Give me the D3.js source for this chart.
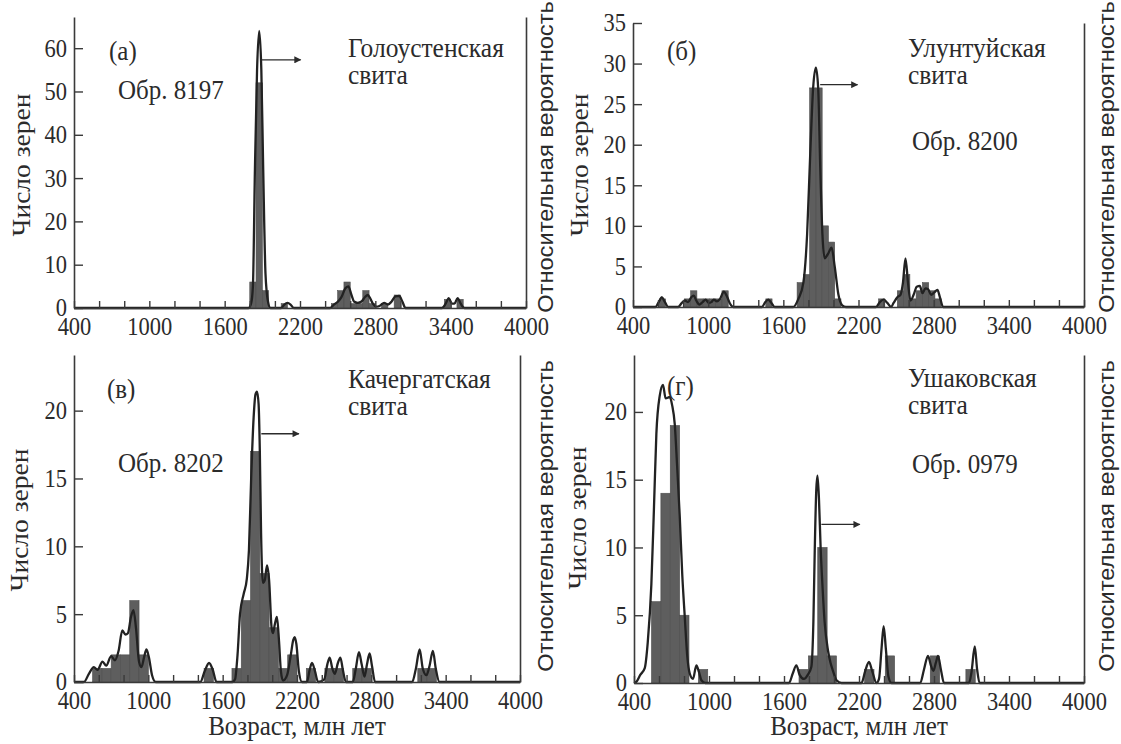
<!DOCTYPE html>
<html>
<head>
<meta charset="utf-8">
<script src="https://cdn.jsdelivr.net/npm/d3@7"></script>
<style>
  body { margin: 0; background: #fff; }
</style>
</head>
<body>
<div id="chart-container"></div>
<script>
const width = 1121;
const height = 744;
const ink = "#2b2b2b";
const barColor = "#5e5e5e";
const serif = "'Liberation Serif', 'Times New Roman', serif";
const sans = "'Liberation Sans', Arial, sans-serif";
const stretch = 1.1; // the scan is a bit taller than wide

// x axis (age, Ma) shared by all panels
const ageLabels = [400, 1000, 1600, 2200, 2800, 3400, 4000];
const ageTicks = d3.range(400, 4001, 200);

// (а) Голоустенская свита, обр. 8197 — 50 Ma bins
const aTicks = [0, 10, 20, 30, 40, 50, 60];
const aBinStart = [1800, 1850, 1900, 2050, 2450, 2500, 2550, 2600, 2650, 2700, 2750, 2850, 2950, 3350, 3450];
const aCounts = [6, 52, 4, 1, 1, 4, 6, 1, 1, 4, 1, 1, 3, 2, 2];
const aCurve = [[400, 0], [1790, 0], [1810, 1], [1825, 5], [1841, 32], [1858, 55], [1875, 64], [1892, 55],
  [1907, 32], [1925, 8], [1945, 1.5], [1965, 0],
  [2050, 0], [2075, 0.8], [2100, 1.2], [2125, 0.8], [2150, 0],
  [2440, 0], [2470, 0.8], [2500, 1.4], [2530, 2.5], [2560, 4.5], [2585, 5], [2610, 3], [2630, 1.5],
  [2660, 1.2], [2690, 1.5], [2720, 2.6], [2740, 3], [2760, 2.2], [2780, 1], [2810, 0.3], [2840, 0.6],
  [2870, 1.2], [2900, 0.8], [2930, 1.5], [2960, 2.7], [2990, 2.8], [3015, 1.5], [3040, 0],
  [3330, 0], [3360, 1], [3385, 2.3], [3410, 1], [3430, 1], [3455, 2.3], [3480, 1], [3510, 0], [4000, 0]];
const aArrow = [1894, 2205, 57.3];

// (б) Улунтуйская свита, обр. 8200 — 50 Ma bins
const bTicks = [0, 5, 10, 15, 20, 25, 30, 35];
const bBinStart = [610, 810, 860, 910, 960, 1010, 1060, 1110, 1460, 1710, 1760, 1810, 1860, 1910, 1960, 2010,
  2360, 2510, 2560, 2610, 2660, 2710, 2760, 2810];
const bCounts = [1, 1, 2, 1, 1, 1, 1, 2, 1, 3, 4, 27, 27, 10, 8, 1, 1, 2, 4, 1, 2, 3, 2, 1];
const bCurve = [[400, 0], [580, 0], [605, 0.6], [630, 1.2], [655, 0.6], [680, 0],
  [760, 0], [790, 0.5], [815, 0.8], [840, 0.6], [865, 1.2], [885, 1.4], [905, 0.8], [930, 0.3], [955, 0.6],
  [980, 0.9], [1005, 0.5], [1025, 0.6], [1045, 0.9], [1070, 0.7], [1095, 1], [1125, 1.9], [1150, 1.3],
  [1175, 0.4], [1200, 0],
  [1430, 0], [1455, 0.6], [1480, 0.9], [1505, 0.5], [1530, 0],
  [1680, 0], [1720, 1], [1760, 3], [1790, 9], [1815, 19], [1838, 27], [1860, 29.5], [1878, 27], [1895, 17],
  [1912, 9], [1930, 6], [1955, 6.5], [1985, 7.3], [2010, 5], [2040, 1.5], [2070, 0.2], [2100, 0],
  [2340, 0], [2370, 0.6], [2400, 0.9], [2430, 0.5], [2460, 0],
  [2480, 0.5], [2510, 1.2], [2535, 1.5], [2555, 3], [2575, 6], [2595, 3], [2615, 0.8], [2640, 1.5],
  [2665, 2.5], [2690, 2.6], [2710, 1.7], [2735, 2.3], [2755, 2.2], [2780, 1.5], [2805, 1.8], [2830, 2.1],
  [2850, 1.2], [2875, 0], [4000, 0]];
const bArrow = [1894, 2192, 27.4];

// (в) Качергатская свита, обр. 8202 — 75 Ma bins
const cTicks = [0, 5, 10, 15, 20];
const cBinStart = [550, 625, 700, 775, 850, 925, 1450, 1675, 1750, 1825, 1900, 1975, 2050, 2125, 2275,
  2425, 2500, 2650, 2725, 3175, 3250];
const cCounts = [1, 1, 2, 2, 6, 2, 1, 1, 6, 17, 8, 4, 1, 2, 1, 1, 1, 1, 1, 1, 1];
const cCurve = [[400, 0], [480, 0], [520, 0.6], [560, 1.1], [590, 0.9], [630, 1.5], [660, 1.2], [700, 1.9],
  [730, 1.6], [760, 2.3], [790, 3.8], [815, 3.5], [835, 3.6], [860, 4.8], [880, 5.3], [900, 4], [925, 1.5],
  [945, 1.1], [965, 1.8], [985, 2.4], [1005, 1.8], [1030, 0.5], [1060, 0],
  [1420, 0], [1455, 0.8], [1490, 1.4], [1520, 0.9], [1550, 0],
  [1680, 0], [1700, 0.2], [1720, 2], [1740, 5], [1770, 6.5], [1795, 7.6], [1812, 9.7], [1830, 15],
  [1850, 19.5], [1865, 21.2], [1877, 21.4], [1890, 20.5], [1900, 17], [1910, 11], [1925, 7.3], [1940, 7.5],
  [1958, 8.6], [1975, 7.5], [1995, 4], [2006, 3.6], [2022, 4.3], [2038, 4.8], [2055, 3], [2070, 0.8],
  [2087, 0.1], [2120, 0.5], [2150, 2], [2170, 3.1], [2181, 3.3], [2195, 2.8], [2215, 0.8], [2240, 0],
  [2280, 0], [2300, 0.8], [2321, 1.4], [2345, 0.8], [2370, 0],
  [2420, 0.2], [2445, 1.3], [2464, 1.8], [2485, 1], [2505, 0.6], [2530, 1.4], [2550, 1.8], [2570, 0.9],
  [2595, 0], [2650, 0], [2675, 1], [2700, 2.2], [2722, 1.3], [2745, 0.4], [2765, 1.3], [2786, 2.1],
  [2805, 1.2], [2830, 0], [3130, 0], [3160, 1], [3190, 2.4], [3215, 1], [3245, 0.5], [3270, 1.2],
  [3297, 2.3], [3320, 1], [3350, 0], [4000, 0]];
const cArrow = [1912, 2215, 18.3];

// (г) Ушаковская свита, обр. 0979 — 75 Ma bins
const dTicks = [0, 5, 10, 15, 20];
const dBinStart = [540, 615, 690, 765, 915, 1720, 1795, 1870, 1945, 2245, 2410, 2770, 3055];
const dCounts = [6, 14, 19, 5, 1, 1, 2, 10, 2, 1, 2, 2, 1];
const dCurve = [[400, 0], [420, 0.1], [450, 0.6], [486, 1.1], [510, 3], [539, 7.3], [560, 13], [579, 18.4],
  [606, 21.2], [632, 22], [653, 21], [686, 21.1], [705, 20.5], [726, 19.1], [745, 16], [766, 12.3],
  [786, 8], [806, 4.9], [826, 2], [846, 0.7], [872, 0.3], [899, 1.3], [920, 0.8], [939, 0.2], [970, 0],
  [1640, 0], [1670, 0.7], [1699, 1.3], [1725, 0.6], [1760, 0.3], [1790, 0.6], [1819, 1.2], [1835, 4.5],
  [1846, 9.8], [1858, 14.2], [1868, 15.3], [1880, 13.5], [1893, 10], [1907, 7.3], [1925, 4.5],
  [1952, 2.4], [1972, 1.5], [1992, 0.9], [2020, 0.2], [2060, 0],
  [2220, 0], [2250, 0.9], [2280, 1.55], [2305, 0.9], [2340, 0],
  [2360, 0.3], [2380, 2.5], [2397, 4.2], [2415, 2.5], [2435, 0.5], [2460, 0],
  [2690, 0], [2720, 1], [2752, 2], [2775, 1.3], [2795, 0.9], [2815, 1.5], [2832, 2], [2855, 1], [2880, 0],
  [3080, 0], [3100, 0.8], [3126, 2.7], [3145, 1], [3165, 0], [4000, 0]];
const dArrow = [1899, 2206, 11.7];

const panels = [
  { box: { left: 74, right: 526, top: 17, bottom: 308 }, yMax: 67.2, yTicks: aTicks, binWidth: 50,
    binStart: aBinStart, counts: aCounts, curve: aCurve, arrow: aArrow,
    tag: ["(а)", 109, 60], sample: ["Обр. 8197", 118, 99], suite: ["Голоустенская", "свита", 348, 57],
    yTitle: [30, 165], rTitle: [545, 157], xTitle: false },
  { box: { left: 633, right: 1084, top: 23, bottom: 307 }, yMax: 35, yTicks: bTicks, binWidth: 50,
    binStart: bBinStart, counts: bCounts, curve: bCurve, arrow: bArrow,
    tag: ["(б)", 667, 60], sample: ["Обр. 8200", 912, 150], suite: ["Улунтуйская", "свита", 908, 57],
    yTitle: [588, 165], rTitle: [1106, 157], xTitle: false },
  { box: { left: 74, right: 520, top: 355, bottom: 682 }, yMax: 24.1, yTicks: cTicks, binWidth: 75,
    binStart: cBinStart, counts: cCounts, curve: cCurve, arrow: cArrow,
    tag: ["(в)", 107, 398], sample: ["Обр. 8202", 118, 472], suite: ["Качергатская", "свита", 348, 388],
    yTitle: [28, 520], rTitle: [545, 516], xTitle: true },
  { box: { left: 634, right: 1084, top: 355, bottom: 683 }, yMax: 24.2, yTicks: dTicks, binWidth: 75,
    binStart: dBinStart, counts: dCounts, curve: dCurve, arrow: dArrow,
    tag: ["(г)", 667, 395], sample: ["Обр. 0979", 912, 473], suite: ["Ушаковская", "свита", 908, 387],
    yTitle: [586, 518], rTitle: [1106, 516], xTitle: true }
];

const svg = d3.select("#chart-container").append("svg")
  .attr("width", width)
  .attr("height", height)
  .style("background", "#fff");

svg.append("defs").append("marker")
  .attr("id", "head")
  .attr("viewBox", "0 0 10 10")
  .attr("refX", 9).attr("refY", 5)
  .attr("markerWidth", 11).attr("markerHeight", 7)
  .attr("markerUnits", "userSpaceOnUse")
  .attr("orient", "auto")
  .append("path")
  .attr("d", "M0,0L10,5L0,10Z")
  .attr("fill", ink);

// text placed at (x, y), stretched a little vertically like the scan
function label(g, x, y, s, size, opts = {}) {
  return g.append("text")
    .attr("transform", `translate(${x},${y}) scale(1,${stretch})` + (opts.rotate ? " rotate(-90)" : ""))
    .attr("text-anchor", opts.anchor || "start")
    .attr("dy", opts.dy || null)
    .attr("font-family", opts.family || serif)
    .attr("font-size", size)
    .attr("fill", ink)
    .text(s);
}

function drawPanel(p) {
  const b = p.box;
  const g = svg.append("g");

  const x = d3.scaleLinear().domain([400, 4000]).range([b.left, b.right]);
  const y = d3.scaleLinear().domain([0, p.yMax]).range([b.bottom, b.top]);
  // relative probability, unlabeled right axis
  const y2 = d3.scaleLinear().domain([0, p.yMax]).range([b.bottom, b.top]);

  const bins = p.binStart.map((s, i) => ({ start: s, count: p.counts[i] }));

  g.selectAll(".bar")
    .data(bins)
    .enter().append("rect")
    .attr("class", "bar")
    .attr("x", d => x(d.start))
    .attr("width", d => x(d.start + p.binWidth) - x(d.start))
    .attr("y", d => y(d.count))
    .attr("height", d => y(0) - y(d.count))
    .attr("fill", barColor)
    .attr("stroke", "#4d4d4d")
    .attr("stroke-width", 0.6);

  const line = d3.line()
    .x(d => x(d[0]))
    .y(d => y2(d[1]))
    .curve(d3.curveMonotoneX);

  g.append("path")
    .datum(p.curve)
    .attr("d", line)
    .attr("fill", "none")
    .attr("stroke", "#222")
    .attr("stroke-width", 2.3)
    .attr("stroke-linejoin", "round");

  // axes
  const xAxis = d3.axisBottom(x)
    .tickValues(ageTicks)
    .tickFormat(d => ageLabels.includes(d) ? d : "")
    .tickSizeInner(-7)
    .tickSizeOuter(0)
    .tickPadding(9);
  const yAxis = d3.axisLeft(y)
    .tickValues(p.yTicks)
    .tickSizeInner(-9)
    .tickSizeOuter(0)
    .tickPadding(7);
  const rAxis = d3.axisRight(y2).tickValues([]).tickSizeOuter(0);

  const styleAxis = ax => {
    ax.attr("font-family", serif).attr("font-size", 22.5);
    ax.select(".domain").attr("stroke", "#3a3a3a").attr("stroke-width", 1.6);
    ax.selectAll(".tick line").attr("stroke", "#3a3a3a").attr("stroke-width", 1.4);
    ax.selectAll(".tick text")
      .attr("fill", ink)
      .attr("transform", `scale(1,${stretch})`);
    // minor ticks carry no label
    ax.selectAll(".tick text").filter(function () { return this.textContent === ""; }).remove();
  };

  g.append("g").attr("transform", `translate(0,${b.bottom})`).call(xAxis).call(styleAxis);
  g.append("g").attr("transform", `translate(${b.left},0)`).call(yAxis).call(styleAxis);
  g.append("g").attr("transform", `translate(${b.right},0)`).call(rAxis).call(styleAxis);

  // arrow: the curve belongs to the right axis
  g.append("line")
    .attr("x1", x(p.arrow[0])).attr("x2", x(p.arrow[1]))
    .attr("y1", y(p.arrow[2])).attr("y2", y(p.arrow[2]))
    .attr("stroke", ink)
    .attr("stroke-width", 1.4)
    .attr("marker-end", "url(#head)");

  // texts
  label(g, p.tag[1], p.tag[2], p.tag[0], 25);
  label(g, p.sample[1], p.sample[2], p.sample[0], 25);
  label(g, p.suite[2], p.suite[3], p.suite[0], 25.5);
  label(g, p.suite[2], p.suite[3] + 27, p.suite[1], 25.5);
  label(g, p.yTitle[0], p.yTitle[1], "Число зерен", 25, { rotate: true, anchor: "middle" });
  label(g, p.rTitle[0], p.rTitle[1], "Относительная вероятность", 21.5,
    { rotate: true, anchor: "middle", dy: "0.35em", family: sans });
  if (p.xTitle) {
    label(g, (b.left + b.right) / 2, 735, "Возраст, млн лет", 25, { anchor: "middle" });
  }
}

panels.forEach(drawPanel);
</script>
</body>
</html>
